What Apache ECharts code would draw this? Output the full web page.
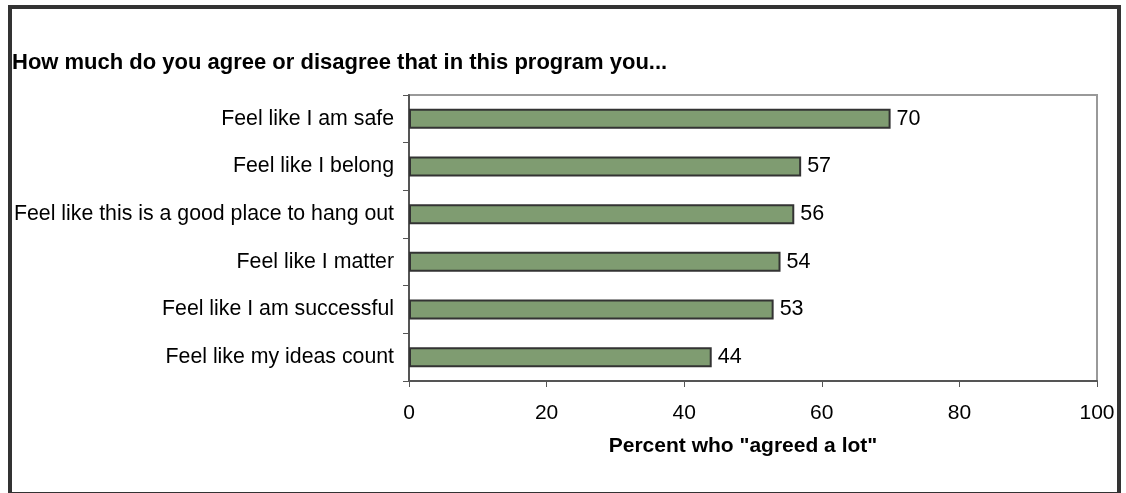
<!DOCTYPE html>
<html>
<head>
<meta charset="utf-8">
<script src="https://cdn.jsdelivr.net/npm/echarts@6/dist/echarts.min.js"></script>
<style>
  html, body { margin: 0; padding: 0; background: #fff; }
  #chart { width: 1126px; height: 493px; }
</style>
</head>
<body>
<div id="chart"></div>
<script>
// Survey items, top to bottom
const categories = [
  'Feel like I am safe',
  'Feel like I belong',
  'Feel like this is a good place to hang out',
  'Feel like I matter',
  'Feel like I am successful',
  'Feel like my ideas count'
];
// Percent who "agreed a lot"
const values = [70, 57, 56, 54, 53, 44];
const xTicks = [0, 20, 40, 60, 80, 100];

const FONT = '"Liberation Sans", Arial, sans-serif';
const chart = echarts.init(document.getElementById('chart'), null, { renderer: 'canvas' });

chart.setOption({
  animation: false,
  backgroundColor: '#fff',
  title: {
    text: 'How much do you agree or disagree that in this program you...',
    left: 7,
    top: 47,
    textStyle: { fontFamily: FONT, fontSize: 22, fontWeight: 'bold', color: '#000' }
  },
  graphic: [{
    type: 'rect',
    shape: { x: 10, y: 7, width: 1109, height: 487 },
    style: { fill: 'none', stroke: '#333', lineWidth: 4 },
    silent: true
  }],
  grid: {
    left: 409, right: 29, top: 95, bottom: 112,
    show: true, borderColor: '#999', borderWidth: 2, backgroundColor: '#fff'
  },
  xAxis: {
    type: 'value',
    min: xTicks[0],
    max: xTicks[xTicks.length - 1],
    interval: 20,
    name: 'Percent who "agreed a lot"',
    nameLocation: 'middle',
    nameGap: 55,
    nameTextStyle: {
      fontFamily: FONT, fontSize: 21, fontWeight: 'bold', color: '#000',
      padding: [0, 20, 0, 0]
    },
    axisLine: { show: true, lineStyle: { color: '#555', width: 2 } },
    axisTick: { show: true, inside: false, length: 6, lineStyle: { color: '#555', width: 1 } },
    axisLabel: { margin: 22, fontFamily: FONT, fontSize: 21, color: '#000' },
    splitLine: { show: false }
  },
  yAxis: {
    type: 'category',
    data: categories,
    inverse: true,
    axisLine: { show: true, lineStyle: { color: '#555', width: 2 } },
    axisTick: { show: true, inside: false, length: 6, alignWithLabel: false, lineStyle: { color: '#555', width: 1 } },
    axisLabel: { margin: 15, fontFamily: FONT, fontSize: 21.3, color: '#000' },
    splitLine: { show: false }
  },
  series: [{
    type: 'bar',
    data: values,
    barWidth: '42%',
    itemStyle: { color: '#7f9c71', borderColor: '#333', borderWidth: 2 },
    label: {
      show: true, position: 'right', distance: 6,
      fontFamily: FONT, fontSize: 21.5, color: '#000'
    }
  }]
});
</script>
</body>
</html>
